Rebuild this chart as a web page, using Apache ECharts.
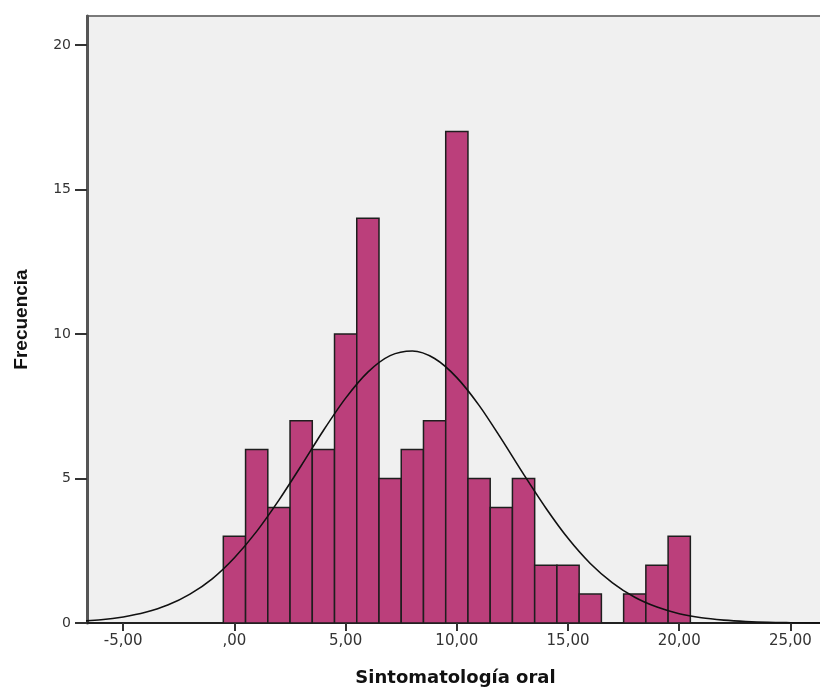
<!DOCTYPE html>
<html>
<head>
<meta charset="utf-8">
<script src="https://cdn.jsdelivr.net/npm/echarts@6/dist/echarts.min.js"></script>
<style>
  html, body { margin: 0; padding: 0; background: #fff; }
  #chart { width: 820px; height: 689px; }
</style>
</head>
<body>
<div id="chart"></div>
<script>
// histogram bins (width 1, centred on the value)
const binCenters = [0, 1, 2, 3, 4, 5, 6, 7, 8, 9, 10, 11, 12, 13, 14, 15, 16, 17, 18, 19, 20];
const frequencies = [3, 6, 4, 7, 6, 10, 14, 5, 6, 7, 17, 5, 4, 5, 2, 2, 1, 0, 1, 2, 3];

// normal curve
const curveX = [-7, -6, -5, -4, -3, -2, -1, 0, 1, 2, 3, 4, 5, 6, 7, 8, 9, 10, 11, 12, 13,
  14, 15, 16, 17, 18, 19, 20, 21, 22, 23, 24, 25, 26, 27];
const curveY = [0.06, 0.11, 0.21, 0.37, 0.62, 1.0, 1.53, 2.26, 3.17, 4.25, 5.44, 6.66, 7.78,
  8.68, 9.25, 9.41, 9.15, 8.49, 7.53, 6.37, 5.15, 3.98, 2.93, 2.06, 1.39, 0.89, 0.55, 0.32,
  0.18, 0.1, 0.05, 0.02, 0.01, 0.005, 0.002];

const xTicks = [-5, 0, 5, 10, 15, 20, 25];
const yTicks = [0, 5, 10, 15, 20];

const chart = echarts.init(document.getElementById("chart"));

const option = {
  backgroundColor: "#ffffff",
  animation: false,
  grid: {
    left: 87,
    top: 16,
    width: 737,
    height: 607,
    outerBoundsMode: "none",
    show: true,
    backgroundColor: "#f0f0f0",
    borderColor: "#7a7a7a",
    borderWidth: 2
  },
  xAxis: {
    type: "value",
    min: -6.63,
    max: 26.51,
    name: "Sintomatología oral",
    nameLocation: "middle",
    nameGap: 46,
    nameTextStyle: {
      fontFamily: "DejaVu Sans",
      fontWeight: "bold",
      fontSize: 18,
      color: "#111"
    },
    splitLine: { show: false },
    axisLine: { onZero: false, lineStyle: { color: "#222", width: 2 } },
    axisTick: {
      show: true,
      length: 8,
      customValues: xTicks,
      lineStyle: { color: "#333", width: 2 }
    },
    axisLabel: {
      customValues: xTicks,
      margin: 11,
      fontFamily: "DejaVu Sans",
      fontSize: 15,
      color: "#333",
      formatter: function (v) {
        if (v === 0) return ",00";
        return v.toFixed(2).replace(".", ",");
      }
    }
  },
  yAxis: {
    type: "value",
    min: 0,
    max: 21,
    name: "Frecuencia",
    nameLocation: "middle",
    nameGap: 56,
    nameTextStyle: {
      fontFamily: "Liberation Sans Narrow, Liberation Sans",
      fontWeight: "bold",
      fontSize: 19,
      color: "#111"
    },
    splitLine: { show: false },
    axisLine: { show: true, onZero: false, lineStyle: { color: "#555", width: 3 } },
    axisTick: {
      show: true,
      length: 12,
      customValues: yTicks,
      lineStyle: { color: "#333", width: 2 }
    },
    axisLabel: {
      customValues: yTicks,
      margin: 16,
      fontFamily: "DejaVu Sans",
      fontSize: 14,
      color: "#333"
    }
  },
  series: [
    {
      type: "custom",
      name: "Frecuencia",
      clip: true,
      data: binCenters.map((c, i) => [c, frequencies[i]]),
      renderItem: function (params, api) {
        const x = api.value(0);
        const y = api.value(1);
        if (!y) return null;
        const p0 = api.coord([x - 0.5, y]);
        const p1 = api.coord([x + 0.5, 0]);
        return {
          type: "rect",
          shape: { x: p0[0], y: p0[1], width: p1[0] - p0[0], height: p1[1] - p0[1] },
          style: { fill: "#bb3f7b", stroke: "#1e1e1e", lineWidth: 1.5 }
        };
      }
    },
    {
      type: "line",
      data: curveX.map((x, i) => [x, curveY[i]]),
      smooth: 0.3,
      symbol: "none",
      clip: true,
      z: 5,
      lineStyle: { color: "#111", width: 1.6 }
    }
  ]
};

chart.setOption(option);
window.addEventListener("resize", () => chart.resize(), false);
</script>
</body>
</html>
